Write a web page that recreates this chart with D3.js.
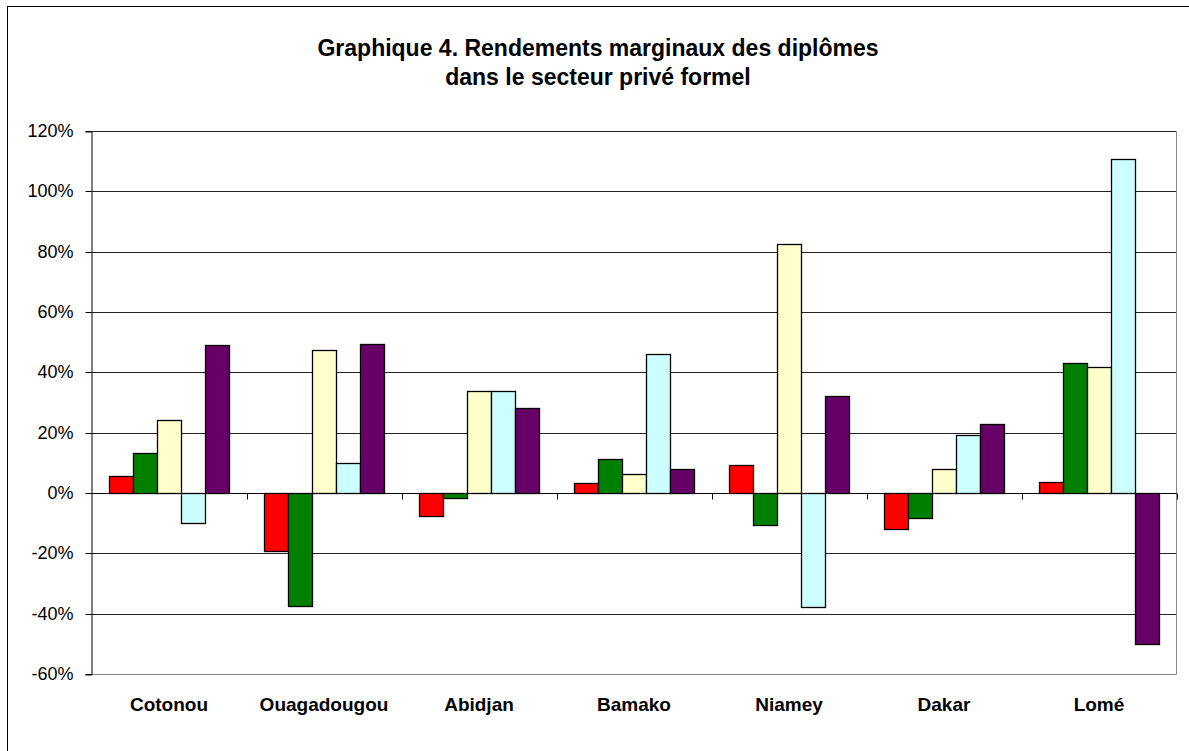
<!DOCTYPE html>
<html lang="fr">
<head>
<meta charset="utf-8">
<style>
  body { margin: 0; background: #fff; }
  text { font-family: Arial, "Liberation Sans", sans-serif; fill: #000; }
  .title { font-size: 23px; font-weight: bold; }
  .ytick { font-size: 18px; }
  .xlab { font-size: 19px; font-weight: bold; }
</style>
</head>
<body>
<script src="https://cdn.jsdelivr.net/npm/d3@7"></script>
<script>
// cities along the x axis
var cities = ["Cotonou", "Ouagadougou", "Abidjan", "Bamako", "Niamey", "Dakar", "Lomé"];
// five series (no legend in the chart), values in %
var serie1 = [5.8, -19.3, -7.7, 3.2, 9.4, -11.8, 3.5];
var serie2 = [13.4, -37.3, -1.5, 11.2, -10.6, -8.3, 43.2];
var serie3 = [24.2, 47.5, 33.7, 6.4, 82.6, 7.9, 41.7];
var serie4 = [-10.1, 9.8, 33.7, 46.1, -37.8, 19.3, 110.7];
var serie5 = [49.1, 49.5, 28.2, 7.8, 32.0, 22.8, -50.2];
var yTicks = [-60, -40, -20, 0, 20, 40, 60, 80, 100, 120];

var series = [serie1, serie2, serie3, serie4, serie5];
var colors = ["#ff0000", "#008000", "#ffffcc", "#ccffff", "#660066"];

var W = 1189, H = 751;
var plotLeft = 91.5, plotRight = 1176.5, plotTop = 131.5, plotBottom = 674.5;

var svg = d3.select("body").append("svg")
  .attr("width", W).attr("height", H);

// outer frame
svg.append("rect")
  .attr("x", 7.5).attr("y", 6.5)
  .attr("width", 1200).attr("height", 800)
  .attr("fill", "#fff").attr("stroke", "#000");

// title
svg.append("text").attr("class", "title")
  .attr("x", 598).attr("y", 56).attr("text-anchor", "middle")
  .text("Graphique 4. Rendements marginaux des diplômes");
svg.append("text").attr("class", "title")
  .attr("x", 598).attr("y", 85).attr("text-anchor", "middle")
  .text("dans le secteur privé formel");

var x0 = d3.scaleBand().domain(cities).range([plotLeft, plotRight]);
var x1 = d3.scaleBand().domain(d3.range(series.length))
  .range([0, x0.bandwidth()]).paddingInner(0).paddingOuter(0.73);
var y = d3.scaleLinear().domain([-60, 120]).range([plotBottom, plotTop]);

// gridlines
svg.append("g").selectAll("line")
  .data(yTicks.filter(function(d) { return d != 0; }))
  .enter().append("line")
  .attr("x1", plotLeft).attr("x2", plotRight)
  .attr("y1", function(d) { return Math.floor(y(d)) + 0.5; })
  .attr("y2", function(d) { return Math.floor(y(d)) + 0.5; })
  .attr("stroke", function(d) { return d == -60 ? "#888" : "#222"; });

// right border of plot
svg.append("line")
  .attr("x1", plotRight).attr("x2", plotRight).attr("y1", plotTop).attr("y2", plotBottom)
  .attr("stroke", "#888");

// y axis
var yAxis = svg.append("g")
  .attr("transform", "translate(" + plotLeft + ",0)")
  .call(d3.axisLeft(y).tickValues(yTicks).tickSize(6).tickPadding(12)
    .tickFormat(function(d) { return d + "%"; }));
yAxis.attr("font-family", null).attr("font-size", null);
yAxis.select(".domain").attr("stroke", "#000");
yAxis.selectAll(".tick").attr("transform", function(d) {
  return "translate(0," + (Math.floor(y(d)) + 0.5) + ")";
});
yAxis.selectAll("text").attr("class", "ytick");

// bars
series.forEach(function(vals, i) {
  svg.append("g").selectAll("rect")
    .data(vals)
    .enter().append("rect")
    .attr("x", function(d, j) { return Math.round(x0(cities[j]) + x1(i)) + 0.5; })
    .attr("width", Math.round(x1.bandwidth()))
    .attr("y", function(d) { return Math.floor(y(Math.max(d, 0))) + 0.5; })
    .attr("height", function(d) { return Math.round(Math.abs(y(d) - y(0))); })
    .attr("fill", colors[i])
    .attr("stroke", "#000")
    .attr("stroke-width", 1.3);
});

// zero axis with category ticks
var zero = Math.floor(y(0)) + 0.5;
var xAxis = svg.append("g")
  .attr("transform", "translate(0," + zero + ")");
xAxis.append("line").attr("x1", plotLeft).attr("x2", plotRight)
  .attr("stroke", "#000");
xAxis.selectAll(".tk")
  .data(cities.slice(1).concat(["end"]))
  .enter().append("line")
  .attr("x1", function(d, j) { return Math.round(plotLeft + (j + 1) * x0.bandwidth()) + 0.5; })
  .attr("x2", function(d, j) { return Math.round(plotLeft + (j + 1) * x0.bandwidth()) + 0.5; })
  .attr("y1", 0).attr("y2", 6)
  .attr("stroke", "#000");

// category labels
svg.append("g").selectAll("text")
  .data(cities)
  .enter().append("text")
  .attr("class", "xlab")
  .attr("x", function(d) { return x0(d) + x0.bandwidth() / 2; })
  .attr("y", 711)
  .attr("text-anchor", "middle")
  .text(function(d) { return d; });
</script>
</body>
</html>
